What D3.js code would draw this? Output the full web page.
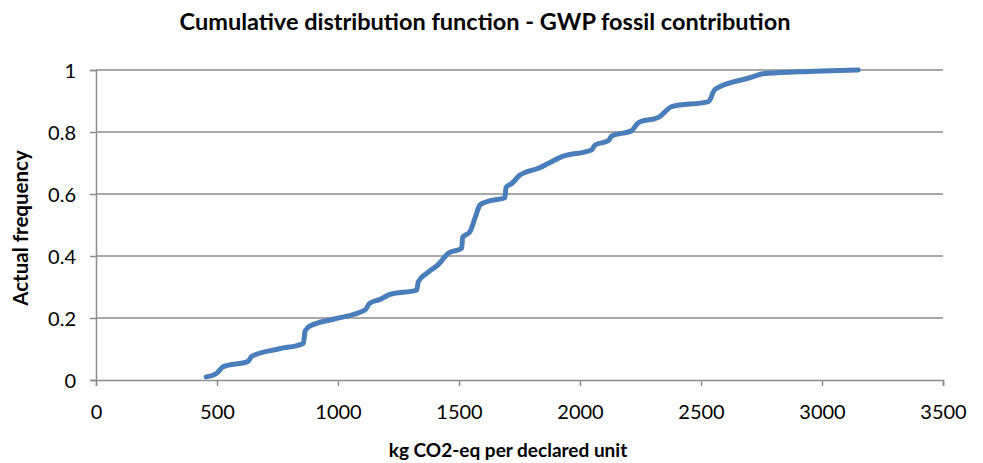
<!DOCTYPE html>
<html>
<head>
<meta charset="utf-8">
<script src="https://cdn.jsdelivr.net/npm/d3@7"></script>
<style>
  body { margin: 0; background: #fff; }
  text { font-family: Lato, "Open Sans", sans-serif; fill: #000; }
</style>
</head>
<body>
<svg id="chart" width="983" height="463"></svg>
<script>
// values
var gwp = [455, 499, 526, 629, 643, 753, 857, 864, 884, 981, 1112, 1130, 1174, 1215, 1325, 1332, 1366, 1415, 1456, 1511, 1515, 1545, 1566, 1587, 1614, 1690, 1694, 1718, 1752, 1828, 1931, 2048, 2062, 2117, 2131, 2213, 2241, 2328, 2379, 2531, 2558, 2702, 2757, 2900, 3150]
var freq = [0.01, 0.022, 0.043, 0.06, 0.076, 0.1, 0.118, 0.158, 0.174, 0.196, 0.226, 0.247, 0.26, 0.276, 0.29, 0.317, 0.344, 0.373, 0.409, 0.425, 0.46, 0.478, 0.522, 0.565, 0.575, 0.588, 0.621, 0.634, 0.661, 0.683, 0.722, 0.742, 0.758, 0.772, 0.787, 0.804, 0.83, 0.849, 0.882, 0.898, 0.938, 0.975, 0.988, 0.994, 1.0]
var xTicks = [0, 500, 1000, 1500, 2000, 2500, 3000, 3500]
var yTicks = [0, 0.2, 0.4, 0.6, 0.8, 1]

var svg = d3.select('#chart')
var x = d3.scaleLinear().domain([0, 3500]).range([96, 943])
var y = d3.scaleLinear().domain([0, 1]).range([380, 70])

// gridlines
svg.append('g').selectAll('line')
  .data(yTicks.slice(1))
  .join('line')
  .attr('x1', 96).attr('x2', 943)
  .attr('y1', d => y(d)).attr('y2', d => y(d))
  .attr('stroke', '#8c8c8c')
  .attr('stroke-width', 1.5)

var xAxis = svg.append('g')
  .attr('transform', 'translate(0,380)')
  .call(d3.axisBottom(x).tickValues(xTicks).tickSize(6).tickPadding(19).tickFormat(d3.format('d')))
var yAxis = svg.append('g')
  .attr('transform', 'translate(96,0)')
  .call(d3.axisLeft(y).tickValues(yTicks).tickSize(6).tickPadding(14).tickFormat(d => d))

;[xAxis, yAxis].forEach(function(a){
  a.select('.domain').attr('stroke', '#8c8c8c').attr('stroke-width', 1.5)
  a.selectAll('.tick line').attr('stroke', '#8c8c8c').attr('stroke-width', 1.5)
  a.selectAll('.tick text').style('font-size', '20px').style('font-family', 'Lato, sans-serif').attr('fill', '#000')
})
yAxis.selectAll('.tick text').attr('dy', '0.36em')

var pts = gwp.map((v, i) => [v, freq[i]])
svg.append('path')
  .datum(pts)
  .attr('fill', 'none')
  .attr('stroke', '#4a7ebb')
  .attr('stroke-width', 5)
  .attr('stroke-linecap', 'round')
  .attr('stroke-linejoin', 'round')
  .attr('d', d3.line().x(d => x(d[0])).y(d => y(d[1])).curve(d3.curveMonotoneX))

svg.append('text')
  .attr('x', 485).attr('y', 30)
  .attr('text-anchor', 'middle')
  .style('font-size', '23.5px').style('font-weight', 'bold')
  .text('Cumulative distribution function - GWP fossil contribution')

svg.append('text')
  .attr('x', 508).attr('y', 457)
  .attr('text-anchor', 'middle')
  .style('font-size', '19px').style('font-weight', 'bold')
  .text('kg CO2-eq per declared unit')

svg.append('text')
  .attr('transform', 'translate(28,228) rotate(-90)')
  .attr('text-anchor', 'middle')
  .style('font-size', '20.5px').style('font-weight', 'bold')
  .text('Actual frequency')
</script>
</body>
</html>
